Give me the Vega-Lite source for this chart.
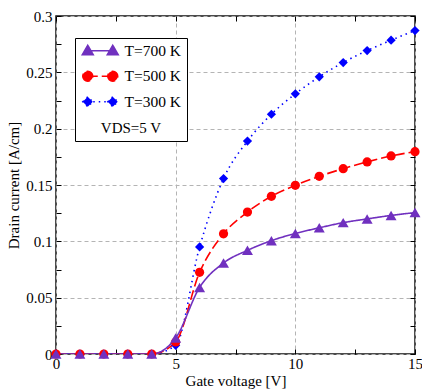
{
  "$schema": "https://vega.github.io/schema/vega-lite/v6.json",
  "width": 359,
  "height": 338,
  "autosize": {"type": "none"},
  "padding": {"left": 56, "top": 16, "right": 7, "bottom": 37},
  "background": "white",
  "config": {
    "font": "Liberation Serif",
    "view": {"stroke": "#111", "strokeWidth": 1.5},
    "axis": {"labelFont": "Liberation Serif", "titleFont": "Liberation Serif", "labelFontSize": 15, "titleFontSize": 15, "titleFontWeight": "normal", "labelColor": "#000", "titleColor": "#000", "tickColor": "#000", "domain": false, "labelFlush": false},
    "legend": {"labelFont": "Liberation Serif", "titleFont": "Liberation Serif", "labelFontSize": 15.5, "titleFontSize": 15, "titleFontWeight": "normal", "labelColor": "#000", "titleColor": "#000"}
  },
  "data": {
    "values": [
      {"T": "T=300 K", "V": 0, "I": 0},
      {"T": "T=300 K", "V": 1, "I": 0},
      {"T": "T=300 K", "V": 2, "I": 0},
      {"T": "T=300 K", "V": 3, "I": 0},
      {"T": "T=300 K", "V": 4, "I": 0},
      {"T": "T=300 K", "V": 5, "I": 0.0077},
      {"T": "T=300 K", "V": 6, "I": 0.095},
      {"T": "T=300 K", "V": 7, "I": 0.1557},
      {"T": "T=300 K", "V": 8, "I": 0.189},
      {"T": "T=300 K", "V": 9, "I": 0.2128},
      {"T": "T=300 K", "V": 10, "I": 0.2309},
      {"T": "T=300 K", "V": 11, "I": 0.246},
      {"T": "T=300 K", "V": 12, "I": 0.2587},
      {"T": "T=300 K", "V": 13, "I": 0.2693},
      {"T": "T=300 K", "V": 14, "I": 0.2785},
      {"T": "T=300 K", "V": 15, "I": 0.2871},
      {"T": "T=500 K", "V": 0, "I": 0},
      {"T": "T=500 K", "V": 1, "I": 0},
      {"T": "T=500 K", "V": 2, "I": 0},
      {"T": "T=500 K", "V": 3, "I": 0},
      {"T": "T=500 K", "V": 4, "I": 0},
      {"T": "T=500 K", "V": 5, "I": 0.0107},
      {"T": "T=500 K", "V": 6, "I": 0.0725},
      {"T": "T=500 K", "V": 7, "I": 0.1067},
      {"T": "T=500 K", "V": 8, "I": 0.126},
      {"T": "T=500 K", "V": 9, "I": 0.140},
      {"T": "T=500 K", "V": 10, "I": 0.1497},
      {"T": "T=500 K", "V": 11, "I": 0.1577},
      {"T": "T=500 K", "V": 12, "I": 0.1645},
      {"T": "T=500 K", "V": 13, "I": 0.1705},
      {"T": "T=500 K", "V": 14, "I": 0.1758},
      {"T": "T=500 K", "V": 15, "I": 0.1796},
      {"T": "T=700 K", "V": 0, "I": 0},
      {"T": "T=700 K", "V": 1, "I": 0},
      {"T": "T=700 K", "V": 2, "I": 0},
      {"T": "T=700 K", "V": 3, "I": 0},
      {"T": "T=700 K", "V": 4, "I": 0},
      {"T": "T=700 K", "V": 5, "I": 0.0142},
      {"T": "T=700 K", "V": 6, "I": 0.0591},
      {"T": "T=700 K", "V": 7, "I": 0.0808},
      {"T": "T=700 K", "V": 8, "I": 0.092},
      {"T": "T=700 K", "V": 9, "I": 0.1006},
      {"T": "T=700 K", "V": 10, "I": 0.107},
      {"T": "T=700 K", "V": 11, "I": 0.112},
      {"T": "T=700 K", "V": 12, "I": 0.1166},
      {"T": "T=700 K", "V": 13, "I": 0.1199},
      {"T": "T=700 K", "V": 14, "I": 0.123},
      {"T": "T=700 K", "V": 15, "I": 0.1255}
    ]
  },
  "layer": [
    {
      "mark": {"type": "line", "interpolate": "monotone", "strokeWidth": 1.6, "clip": true},
      "encoding": {
        "x": {"field": "V", "type": "quantitative", "scale": {"domain": [0, 15], "nice": false},
          "axis": {"orient": "bottom", "title": "Gate voltage [V]", "values": [0, 2.5, 5, 7.5, 10, 12.5, 15], "format": "~g",
            "labelExpr": "datum.value % 5 == 0 ? datum.label : ''",
            "grid": true, "gridColor": "#b4b4b4", "gridDash": [4, 3], "gridWidth": 1,
            "gridOpacity": {"condition": {"test": "datum.value % 5 == 0", "value": 1}, "value": 0},
            "tickSize": -5, "labelPadding": 7, "titlePadding": 2}},
        "y": {"field": "I", "type": "quantitative", "scale": {"domain": [0, 0.3], "nice": false},
          "axis": {"orient": "left", "title": "Drain current [A/cm]", "values": [0, 0.025, 0.05, 0.075, 0.1, 0.125, 0.15, 0.175, 0.2, 0.225, 0.25, 0.275, 0.3], "format": "~g",
            "labelExpr": "round(datum.value * 40) % 2 == 0 ? datum.label : ''",
            "grid": true, "gridColor": "#b4b4b4", "gridDash": [4, 3], "gridWidth": 1,
            "gridOpacity": {"condition": {"test": "round(datum.value * 40) % 2 == 0", "value": 1}, "value": 0},
            "tickSize": -5, "labelPadding": 9, "titlePadding": 4}},
        "color": {"field": "T", "type": "nominal",
          "scale": {"domain": ["T=700 K", "T=500 K", "T=300 K"], "range": ["#7030BF", "#FF0000", "#0000FF"]},
          "legend": {
            "orient": "none", "legendX": 19, "legendY": 22,
            "title": "VDS=5 V", "titleOrient": "bottom", "titleAnchor": "middle", "titlePadding": 11,
            "strokeColor": "#000", "fillColor": "#fff", "padding": 5,
            "symbolSize": 4, "symbolStrokeWidth": 1.5, "labelOffset": 29, "rowPadding": 7.5,
            "encode": {
              "symbols": {
                "update": {
                  "shape": {"signal": "datum.value == 'T=700 K' ? 'M0,0L25,0M-5.5,4L0,-5.5L5.5,4ZM19.5,4L25,-5.5L30.5,4Z' : datum.value == 'T=500 K' ? 'M0,0L25,0M-5,0A5,5,0,1,0,5,0A5,5,0,1,0,-5,0ZM20,0A5,5,0,1,0,30,0A5,5,0,1,0,20,0Z' : 'M0,0L25,0M-5,0L0,-5L5,0L0,5ZM20,0L25,-5L30,0L25,5Z'"},
                  "fill": {"scale": "color", "field": "value"},
                  "stroke": {"scale": "color", "field": "value"},
                  "strokeDash": {"signal": "datum.value == 'T=500 K' ? [8, 4] : datum.value == 'T=300 K' ? [1.5, 3] : [1, 0]"}
                }
              }
            }
          }},
        "strokeDash": {"field": "T", "type": "nominal", "legend": null,
          "scale": {"domain": ["T=700 K", "T=500 K", "T=300 K"], "range": [[1, 0], [10, 4], [1.5, 4]]}}
      }
    },
    {
      "transform": [{"filter": "datum.T == 'T=300 K'"}],
      "mark": {"type": "point", "filled": true, "opacity": 1, "strokeWidth": 0, "shape": "diamond", "size": 85, "color": "#0000FF"},
      "encoding": {
        "x": {"field": "V", "type": "quantitative",
          "axis": {"orient": "top", "title": null, "labels": false, "grid": false, "values": [0, 2.5, 5, 7.5, 10, 12.5, 15], "tickSize": -5}},
        "y": {"field": "I", "type": "quantitative",
          "axis": {"orient": "right", "title": null, "labels": false, "grid": false, "values": [0, 0.025, 0.05, 0.075, 0.1, 0.125, 0.15, 0.175, 0.2, 0.225, 0.25, 0.275, 0.3], "tickSize": -5}}
      }
    },
    {
      "transform": [{"filter": "datum.T == 'T=500 K'"}],
      "mark": {"type": "point", "filled": true, "opacity": 1, "strokeWidth": 0, "shape": "circle", "size": 85, "color": "#FF0000"},
      "encoding": {
        "x": {"field": "V", "type": "quantitative", "axis": null},
        "y": {"field": "I", "type": "quantitative", "axis": null}
      }
    },
    {
      "transform": [{"filter": "datum.T == 'T=700 K'"}],
      "mark": {"type": "point", "filled": true, "opacity": 1, "strokeWidth": 0, "shape": "triangle-up", "size": 120, "color": "#7030BF"},
      "encoding": {
        "x": {"field": "V", "type": "quantitative", "axis": null},
        "y": {"field": "I", "type": "quantitative", "axis": null}
      }
    }
  ],
  "resolve": {"axis": {"x": "independent", "y": "independent"}}
}
